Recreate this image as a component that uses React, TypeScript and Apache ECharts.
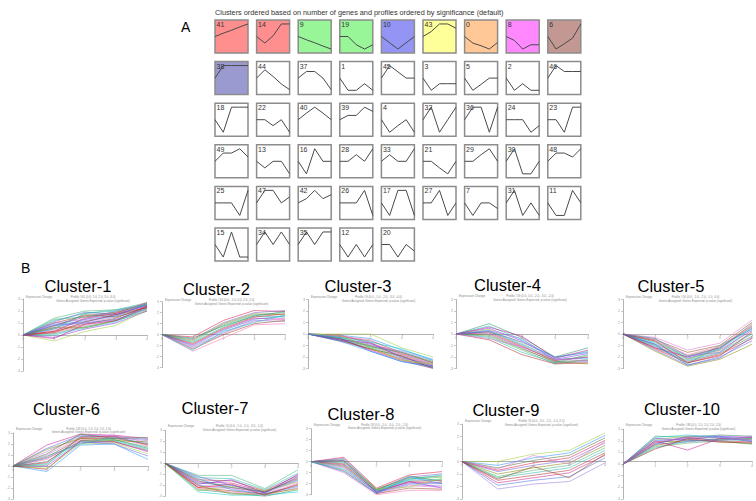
import React, { useEffect, useRef } from 'react';
import * as echarts from 'echarts';

const headerA = 'Clusters ordered based on number of genes and profiles ordered by significance (default)';

const profileIds = [41, 14, 9, 19, 10, 43, 0, 8, 6, 38, 44, 37, 1, 45, 3, 5, 2, 46, 18, 22, 40, 39, 4, 32, 36, 24, 23, 49, 13, 16, 28, 33, 21, 29, 30, 48, 25, 47, 42, 26, 17, 27, 7, 31, 11, 15, 34, 35, 12, 20];

const profileShapes = [
  [50, 60, 69, 79, 88], [50, 30, 52, 88, 88], [50, 40, 31, 21, 12], [50, 50, 25, 12, 25], [50, 31, 12, 31, 50],
  [50, 65, 88, 88, 75], [50, 30, 22, 12, 32], [50, 38, 12, 25, 25], [50, 12, 28, 45, 88],
  [50, 88, 88, 88, 88], [50, 75, 55, 32, 15], [50, 70, 70, 50, 15], [50, 13, 13, 33, 13], [50, 88, 69, 50, 50],
  [50, 13, 33, 33, 33], [50, 13, 31, 50, 50], [50, 13, 33, 13, 13], [50, 88, 70, 70, 70],
  [50, 12, 88, 88, 88], [50, 50, 32, 50, 12], [50, 70, 88, 70, 50], [50, 63, 63, 88, 75], [50, 12, 32, 50, 12],
  [50, 88, 12, 50, 88], [50, 88, 88, 12, 88], [50, 50, 50, 12, 32], [50, 50, 12, 88, 88],
  [50, 75, 75, 88, 63], [50, 30, 50, 50, 12], [50, 12, 88, 50, 50], [50, 50, 70, 50, 88], [50, 70, 50, 50, 88],
  [50, 50, 30, 12, 50], [50, 50, 70, 88, 50], [50, 88, 12, 12, 50], [50, 75, 75, 63, 88],
  [50, 50, 50, 12, 88], [50, 88, 88, 50, 68], [50, 63, 88, 63, 75], [50, 50, 50, 88, 12], [50, 12, 88, 88, 12],
  [50, 50, 88, 12, 50], [50, 12, 50, 50, 33], [50, 88, 12, 50, 12], [50, 12, 12, 88, 50],
  [50, 12, 88, 12, 12], [50, 88, 50, 88, 50], [50, 88, 50, 88, 88], [50, 12, 50, 12, 50], [50, 50, 12, 50, 30],
];

const boxColors: Record<number, string> = {
  41: '#ff8f8f', 14: '#ff8f8f', 9: '#98f598', 19: '#98f598', 10: '#9494f5',
  43: '#ffff99', 0: '#ffc896', 8: '#ff88ff', 6: '#c49892', 38: '#9a9ad0',
};

const clusterNames = ['Cluster-1', 'Cluster-2', 'Cluster-3', 'Cluster-4', 'Cluster-5', 'Cluster-6', 'Cluster-7', 'Cluster-8', 'Cluster-9', 'Cluster-10'];
const clusterProfiles = ['Profile #41 (0.0, 1.0, 2.0, 3.0, 4.0)', 'Profile #14 (0.0, -1.0, 0.0, 2.0, 2.0)', 'Profile #9 (0.0, -1.0, -2.0, -3.0, -4.0)', 'Profile #19 (0.0, 0.0, -2.0, -3.0, -2.0)', 'Profile #10 (0.0, -1.0, -2.0, -1.0, 0.0)', 'Profile #43 (0.0, 1.0, 2.0, 2.0, 1.0)', 'Profile #0 (0.0, -1.0, -2.0, -3.0, -1.0)', 'Profile #8 (0.0, -1.0, -3.0, -2.0, -2.0)', 'Profile #6 (0.0, -3.0, -2.0, -1.0, 2.0)', 'Profile #38 (0.0, 2.0, 2.0, 2.0, 2.0)'];
const timeLabels = ['0', '1', '2', '3', '4'];

const c1 = [
  [0, 1.4, 2.0, 2.1, 2.7], [0, 1.2, 1.8, 2.0, 2.6], [0, 1.0, 1.6, 1.9, 2.5], [0, 0.8, 1.5, 1.8, 2.4],
  [0, 0.6, 1.3, 1.7, 2.5], [0, 0.5, 1.2, 1.6, 2.3], [0, 0.4, 1.0, 1.5, 2.2], [0, 0.3, 0.9, 1.4, 2.4],
  [0, 0.2, 0.8, 1.3, 2.1], [0, 0.1, 0.7, 1.2, 2.0], [0, 0.0, 0.6, 1.1, 2.2], [0, -0.2, 0.5, 1.0, 2.0],
  [0, -0.5, 0.3, 0.8, 2.1], [0, 0.9, 1.1, 1.6, 2.6], [0, 0.7, 1.7, 1.5, 2.3], [0, 0.3, 1.4, 1.8, 2.7],
  [0, 1.1, 1.9, 1.7, 2.5], [0, 0.6, 0.6, 1.2, 2.3], [0, 1.3, 1.5, 1.9, 2.6], [0, 0.5, 1.8, 2.1, 2.5],
  [0, 0.2, 1.1, 1.7, 2.3], [0, -0.3, 0.9, 1.2, 2.4], [0, 0.8, 1.0, 1.3, 2.2], [0, 1.0, 1.3, 2.0, 2.6],
];
const c2 = [
  [0, -0.2, 1.3, 2.2, 2.1], [0, -0.4, 1.1, 2.0, 2.2], [0, -0.5, 1.0, 1.9, 1.8], [0, -0.6, 0.9, 1.8, 2.0],
  [0, -0.7, 0.7, 1.7, 1.6], [0, -0.8, 0.6, 1.6, 1.9], [0, -0.9, 0.5, 1.5, 1.4], [0, -1.0, 0.4, 1.4, 1.7],
  [0, -1.1, 0.2, 1.3, 1.2], [0, -1.2, 0.1, 1.2, 1.5], [0, -1.3, 0.0, 1.0, 1.3], [0, -1.5, -0.3, 0.9, 1.0],
  [0, -0.3, 0.8, 1.7, 2.1], [0, -1.4, 0.3, 1.1, 1.8],
];
const c3 = [
  [0, 0.0, 0.0, -1.2, -2.0], [0, -0.1, -0.4, -1.4, -2.2], [0, -0.2, -0.6, -1.6, -2.4], [0, -0.1, -0.8, -1.7, -2.5],
  [0, -0.3, -0.9, -1.8, -2.6], [0, -0.4, -1.0, -1.9, -2.7], [0, -0.2, -1.1, -2.0, -2.8], [0, -0.5, -1.2, -2.1, -2.9],
  [0, -0.6, -1.3, -2.2, -2.9], [0, -0.4, -1.4, -2.3, -3.0], [0, -0.3, -1.5, -2.4, -2.8], [0, -0.6, -1.0, -1.5, -2.3],
  [0, -0.1, -0.7, -2.1, -2.6], [0, -0.5, -1.3, -1.9, -3.0], [0, -0.2, -0.5, -1.8, -2.7], [0, -0.4, -1.1, -1.6, -2.5],
  [0, -0.3, -0.7, -1.3, -2.3], [0, -0.5, -0.8, -2.0, -2.8], [0, -0.1, -1.2, -2.3, -2.6], [0, -0.6, -1.5, -2.4, -2.9],
];
const c4 = [
  [0, 0.9, -0.3, -2.0, -1.2], [0, 0.7, -0.5, -2.1, -1.5], [0, 0.5, -0.6, -2.2, -1.7], [0, 0.4, -0.8, -2.3, -1.9],
  [0, 0.3, -0.9, -2.2, -2.1], [0, 0.2, -1.0, -2.4, -2.3], [0, 0.1, -1.1, -2.3, -2.0], [0, 0.0, -1.2, -2.5, -2.4],
  [0, -0.1, -1.3, -2.4, -2.6], [0, -0.2, -1.4, -2.6, -2.2], [0, -0.3, -1.6, -2.5, -1.8], [0, -0.5, -1.8, -2.6, -2.5],
  [0, 0.6, -0.2, -2.1, -1.4], [0, 0.2, -0.7, -2.0, -1.6], [0, 0.3, -0.4, -2.3, -2.0], [0, -0.4, -1.1, -2.2, -2.3],
];
const c5 = [
  [0, -0.3, -1.4, -0.8, 1.2], [0, -0.5, -1.6, -1.0, 1.0], [0, -0.6, -1.8, -1.1, 0.8], [0, -0.7, -1.9, -1.2, 0.6],
  [0, -0.8, -2.0, -1.3, 0.5], [0, -0.9, -2.1, -1.4, 0.3], [0, -1.0, -2.2, -1.5, 0.1], [0, -1.1, -2.3, -1.6, 0.0],
  [0, -1.2, -2.4, -1.7, -0.2], [0, -1.3, -2.5, -1.8, -0.4], [0, -1.4, -2.7, -2.0, -0.6], [0, -1.5, -2.8, -2.2, -0.9],
  [0, -0.4, -2.2, -1.3, 0.9], [0, -1.0, -2.6, -1.0, 0.4], [0, -0.6, -2.5, -1.9, 0.2], [0, -1.2, -2.0, -1.2, 0.7],
  [0, -0.9, -2.7, -2.1, -0.3], [0, -0.4, -1.9, -1.6, 0.5],
];
const c6 = [
  [0, 1.9, 2.9, 2.8, 2.5], [0, 1.6, 2.8, 2.7, 2.4], [0, 1.3, 2.7, 2.6, 2.3], [0, 1.0, 2.6, 2.8, 2.1],
  [0, 0.8, 2.5, 2.5, 2.0], [0, 0.6, 2.4, 2.6, 1.8], [0, 0.4, 2.3, 2.4, 1.6], [0, 0.2, 2.2, 2.3, 1.5],
  [0, 0.0, 2.1, 2.2, 1.3], [0, -0.2, 2.0, 2.1, 1.1], [0, -0.5, 1.9, 2.0, 0.6], [0, 1.1, 2.9, 2.5, 2.6],
  [0, 0.3, 2.6, 2.7, 1.9], [0, 0.7, 2.2, 2.0, 0.9], [0, 1.5, 2.5, 2.3, 2.2], [0, 0.1, 2.7, 2.4, 1.7],
  [0, 0.9, 2.0, 2.6, 2.0], [0, -0.3, 2.3, 2.2, 1.4],
];
const c7 = [
  [0, -1.1, -1.1, -2.3, -0.6], [0, -1.3, -1.4, -2.4, -0.9], [0, -1.5, -1.6, -2.5, -1.1], [0, -1.7, -1.8, -2.6, -1.3],
  [0, -1.8, -2.0, -2.6, -1.5], [0, -2.0, -2.2, -2.7, -1.6], [0, -2.1, -2.3, -2.8, -1.8], [0, -2.2, -2.5, -2.8, -2.0],
  [0, -2.3, -2.6, -2.9, -2.2], [0, -2.4, -2.7, -3.0, -2.4], [0, -2.6, -2.9, -2.9, -2.6], [0, -1.9, -1.5, -2.7, -1.0],
  [0, -2.5, -2.1, -2.5, -1.7], [0, -1.4, -2.4, -2.8, -2.1], [0, -1.6, -2.2, -2.6, -1.4], [0, -2.2, -1.9, -2.9, -1.9],
  [0, -1.2, -2.0, -2.7, -1.2], [0, -2.0, -2.8, -2.8, -2.3],
];
const c8 = [
  [0, 0.4, -2.4, -1.2, -0.9], [0, 0.3, -2.5, -1.4, -1.1], [0, 0.1, -2.5, -1.5, -1.3], [0, 0.0, -2.6, -1.6, -1.4],
  [0, -0.1, -2.6, -1.7, -1.6], [0, -0.2, -2.7, -1.8, -1.7], [0, -0.3, -2.7, -1.9, -1.9], [0, -0.4, -2.8, -2.0, -2.0],
  [0, -0.5, -2.8, -2.1, -2.2], [0, -0.6, -2.9, -2.2, -2.3], [0, -0.8, -2.9, -2.4, -2.5], [0, -1.0, -3.0, -2.6, -2.6],
  [0, 0.2, -2.6, -1.3, -1.8], [0, -0.7, -2.7, -1.6, -1.2], [0, 0.1, -2.8, -1.8, -2.4], [0, -0.4, -2.5, -2.3, -1.5],
  [0, -0.9, -2.9, -1.4, -2.0],
];
const c9 = [
  [0, 0.0, 0.6, 0.9, 2.3], [0, -0.3, 0.3, 0.7, 2.1], [0, -0.5, 0.1, 0.5, 1.9], [0, -0.7, -0.1, 0.3, 1.7],
  [0, -0.8, -0.3, 0.1, 1.5], [0, -1.0, -0.5, -0.1, 1.3], [0, -1.2, -0.7, -0.3, 1.1], [0, -1.3, -0.9, -0.5, 0.9],
  [0, -1.5, -1.1, -0.7, 0.7], [0, -1.7, -1.3, -0.9, 0.5], [0, -1.9, -1.5, -1.2, 0.3], [0, -2.2, -1.8, -1.6, -0.1],
  [0, -0.6, 0.5, -0.2, 1.6], [0, -1.4, -0.4, -1.3, 0.6],
];
const c10 = [
  [0, 2.4, 2.3, 2.5, 2.4], [0, 2.3, 2.5, 2.3, 2.2], [0, 2.2, 2.1, 2.4, 2.3], [0, 2.1, 2.4, 2.2, 2.1],
  [0, 2.0, 2.2, 2.3, 2.0], [0, 1.9, 2.0, 2.1, 2.2], [0, 1.8, 2.3, 2.0, 1.9], [0, 1.7, 1.9, 2.2, 2.1],
  [0, 1.6, 2.1, 1.9, 1.8], [0, 1.5, 1.8, 2.0, 1.7], [0, 1.4, 2.0, 2.1, 2.0], [0, 1.3, 2.2, 1.9, 1.8],
  [0, 2.0, 1.2, 2.2, 2.3], [0, 1.7, 2.4, 2.4, 1.9], [0, 2.2, 2.0, 2.0, 2.4], [0, 1.9, 2.3, 2.3, 2.0],
];
const clusterLines = [c1, c2, c3, c4, c5, c6, c7, c8, c9, c10];

// layout (positions / sizes) for panel B
const panelLayout = [
  { left: 23, right: 147, zero: 335, unit: 12, tx: 78, ty: 286 },
  { left: 162, right: 285, zero: 334.7, unit: 11, tx: 216.5, ty: 289 },
  { left: 308, right: 433, zero: 334, unit: 11.5, tx: 358, ty: 286 },
  { left: 456, right: 588, zero: 334, unit: 11.5, tx: 507.5, ty: 285 },
  { left: 623, right: 752, zero: 334, unit: 11.5, tx: 671, ty: 286 },
  { left: 13, right: 148, zero: 466, unit: 11, tx: 66.5, ty: 408.5 },
  { left: 165, right: 298, zero: 463.3, unit: 11, tx: 215, ty: 407.5 },
  { left: 311, right: 442, zero: 461.7, unit: 11, tx: 361, ty: 413.5 },
  { left: 462, right: 605, zero: 462.3, unit: 12.7, tx: 506, ty: 410 },
  { left: 623, right: 758, zero: 466.7, unit: 12.5, tx: 682, ty: 408.5 },
];

const palette = ['#3cb371', '#8a2be2', '#4169e1', '#dc143c', '#ff69b4', '#20b2aa', '#9acd32', '#9370db',
  '#6a5acd', '#2e8b57', '#b22222', '#1e90ff', '#da70d6', '#808000', '#00ced1', '#c71585', '#556b2f', '#8b4513'];

function buildOption() {
  const grid: any[] = [];
  const xAxis: any[] = [];
  const yAxis: any[] = [];
  const series: any[] = [];
  const graphic: any[] = [];
  const SANS = 'Liberation Sans, Arial, sans-serif';

  graphic.push({ type: 'text', left: 181, top: 20, style: { text: 'A', font: `14px ${SANS}`, fill: '#000' } });
  graphic.push({ type: 'text', left: 215, top: 9, style: { text: headerA, font: `7.3px ${SANS}`, fill: '#333' } });
  graphic.push({ type: 'text', left: 21, top: 261, style: { text: 'B', font: `14px ${SANS}`, fill: '#000' } });

  // Panel A boxes
  profileIds.forEach((pid, i) => {
    const col = i % 9;
    const row = Math.floor(i / 9);
    const left = 215 + col * 41.6;
    const top = 20 + row * 41.6;
    const gi = grid.length;
    grid.push({
      left, top, width: 33, height: 33, show: true,
      backgroundColor: boxColors[pid] || '#ffffff', borderColor: '#8c8c8c', borderWidth: 1.5,
    });
    xAxis.push({ gridIndex: gi, type: 'value', min: 0, max: 4, show: false });
    yAxis.push({ gridIndex: gi, type: 'value', min: 0, max: 100, show: false });
    series.push({
      type: 'line', xAxisIndex: gi, yAxisIndex: gi, symbol: 'none', silent: true,
      lineStyle: { color: '#4a4a4a', width: 1 },
      data: profileShapes[i].map((v, k) => [k, v]),
    });
    graphic.push({
      type: 'text', left: left + 1.5, top: top + 1, z: 100,
      style: { text: String(pid), font: `7px ${SANS}`, fill: '#333' },
    });
  });

  // Panel B
  clusterLines.forEach((lines, ci) => {
    const L = panelLayout[ci];
    const top = L.zero - 3 * L.unit;
    const height = 6 * L.unit;
    const width = L.right - L.left;
    const gi = grid.length;
    grid.push({ left: L.left, top, width, height, show: false });
    xAxis.push({
      gridIndex: gi, type: 'category', data: timeLabels, boundaryGap: false,
      position: 'bottom', offset: -3 * L.unit,
      axisLine: { onZero: false, lineStyle: { color: '#a0a0a0', width: 0.8 } },
      axisTick: { show: true, length: 2, lineStyle: { color: '#a0a0a0', width: 0.6 } },
      axisLabel: { fontSize: 3.5, color: '#999', margin: 2 },
      splitLine: { show: false },
    });
    yAxis.push({
      gridIndex: gi, type: 'value', min: -3, max: 3, interval: 1,
      axisLine: { show: true, lineStyle: { color: '#a0a0a0', width: 0.8 } },
      axisTick: { show: true, length: 2, lineStyle: { color: '#a0a0a0', width: 0.6 } },
      axisLabel: { fontSize: 3.5, color: '#999', margin: 3 },
      splitLine: { show: false },
    });
    lines.forEach((vals, li) => {
      series.push({
        type: 'line', xAxisIndex: gi, yAxisIndex: gi, symbol: 'none', silent: true,
        lineStyle: { color: palette[(li * 5 + ci * 3) % palette.length], width: 0.7, opacity: 0.75 },
        data: vals,
      });
    });
    graphic.push({
      type: 'text', x: L.tx, y: L.ty, z: 100,
      style: { text: clusterNames[ci], font: `16.5px ${SANS}`, fill: '#000', align: 'center', verticalAlign: 'middle', lineHeight: 13 },
    });
    const cx = L.left + width / 2 + 8;
    const y1 = Math.max(top - 4.5, L.ty + 11);
    graphic.push({
      type: 'text', x: cx, y: y1, z: 100,
      style: { text: clusterProfiles[ci], font: `3px ${SANS}`, fill: '#888', align: 'center', verticalAlign: 'middle', lineHeight: 3 },
    });
    graphic.push({
      type: 'text', x: cx, y: y1 + 3.5, z: 100,
      style: { text: 'Genes Assigned; Genes Expected; p-value (significant)', font: `3px ${SANS}`, fill: '#888', align: 'center', verticalAlign: 'middle', lineHeight: 3 },
    });
    graphic.push({
      type: 'text', x: L.left + 3, y: y1, z: 100,
      style: { text: 'Expression Change', font: `3px ${SANS}`, fill: '#888', align: 'left', verticalAlign: 'middle', lineHeight: 3 },
    });
  });

  return {
    animation: false,
    backgroundColor: '#ffffff',
    grid, xAxis, yAxis, series, graphic,
  };
}

export default function App() {
  const ref = useRef<HTMLDivElement>(null);
  useEffect(() => {
    document.body.style.margin = '0';
    if (!ref.current) return;
    const chart = echarts.init(ref.current, undefined, { renderer: 'svg' });
    chart.setOption(buildOption() as any);
    return () => chart.dispose();
  }, []);
  return <div ref={ref} style={{ width: 756, height: 501 }} />;
}
